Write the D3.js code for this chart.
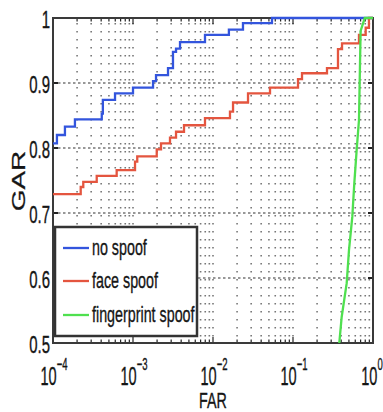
<!DOCTYPE html>
<html>
<head>
<meta charset="utf-8">
<script src="https://cdn.jsdelivr.net/npm/d3@7"></script>
<style>
  body { margin: 0; background: #fff; }
  text { font-family: "Liberation Sans", Arial, Helvetica, sans-serif; fill: #151515; stroke: #151515; stroke-width: 0.35; }
</style>
</head>
<body>
<svg id="chart" width="383" height="412"></svg>
<script>
// ROC data (FAR on log axis, GAR linear)
var blueFar = [1e-4, 1.12e-4, 1.41e-4, 1.88e-4, 4.07e-4, 4.2e-4, 5.96e-4, 1e-3, 1.78e-3, 1.94e-3,
               2.74e-3, 3.16e-3, 3.45e-3, 3.87e-3, 7.94e-3, 0.0158, 0.0237, 0.0546, 1];
var blueGar = [0.807, 0.820, 0.833, 0.844, 0.853, 0.874, 0.884, 0.893, 0.903, 0.912,
               0.923, 0.948, 0.953, 0.963, 0.974, 0.982, 0.992, 1.0, 1.0];

var redFar = [1e-4, 2.22e-4, 2.39e-4, 3.52e-4, 6.25e-4, 1.06e-3, 1.13e-3, 1.98e-3, 2.24e-3, 2.9e-3,
              3.45e-3, 4.34e-3, 7.94e-3, 0.0163, 0.0178, 0.0274, 0.0516, 0.1155, 0.1296, 0.266,
              0.365, 0.41, 0.668, 0.81, 0.89, 1];
var redGar = [0.729, 0.740, 0.748, 0.757, 0.766, 0.779, 0.787, 0.798, 0.807, 0.816,
              0.825, 0.835, 0.846, 0.856, 0.870, 0.884, 0.893, 0.906, 0.915, 0.923,
              0.952, 0.961, 0.974, 0.985, 1.0, 1.0];

var greenFar = [0.379, 0.406, 0.469, 0.501, 0.551, 0.584, 0.625, 0.668, 0.70, 0.79, 1];
var greenGar = [0.5, 0.540, 0.592, 0.643, 0.694, 0.746, 0.797, 0.843, 0.98, 1.0, 1.0];

var seriesNames = ['no spoof', 'face spoof', 'fingerprint spoof'];
var seriesColors = ['#3355dd', '#e4553f', '#4fe04f'];

var farTicks = [1e-4, 1e-3, 1e-2, 1e-1, 1];
var farTickExp = ['\u22124', '\u22123', '\u22122', '\u22121', '0'];
var garTicks = [0.5, 0.6, 0.7, 0.8, 0.9, 1];
var garTickLabels = ['0.5', '0.6', '0.7', '0.8', '0.9', '1'];

var svg = d3.select('#chart');
var squish = 0.65; // the picture is narrowed sideways, text too

var x = d3.scaleLog().domain([1e-4, 1]).range([53, 373]);
var y = d3.scaleLinear().domain([0.5, 1]).range([343, 18]);

// minor log positions 2..9 per decade
var minorFar = [];
for (var e = -4; e < 0; e++) {
    for (var k = 2; k <= 9; k++) minorFar.push(k * Math.pow(10, e));
}

svg.append('rect')
    .attr('x', x(1e-4)).attr('y', y(1))
    .attr('width', x(1) - x(1e-4)).attr('height', y(0.5) - y(1))
    .style('fill', '#fff');

// vertical dotted grid (minor + decades)
svg.append('g').selectAll('line')
    .data(minorFar.concat([1e-3, 1e-2, 1e-1]))
    .enter().append('line')
    .attr('x1', function(d) { return x(d); })
    .attr('x2', function(d) { return x(d); })
    .attr('y1', y(1) + 5).attr('y2', y(0.5))
    .style('stroke', '#777')
    .style('stroke-width', 1.6)
    .style('stroke-dasharray', '1.6,6.4');

// horizontal dotted grid
svg.append('g').selectAll('line')
    .data([0.6, 0.7, 0.8, 0.9])
    .enter().append('line')
    .attr('x1', x(1e-4)).attr('x2', x(1))
    .attr('y1', function(d) { return y(d); })
    .attr('y2', function(d) { return y(d); })
    .style('stroke', '#333')
    .style('stroke-width', 1.2)
    .style('stroke-dasharray', '2.5,2.5');

// inner ticks
var tickG = svg.append('g').style('stroke', '#222').style('stroke-width', 1.2);
minorFar.concat(farTicks).forEach(function(d) {
    var len = farTicks.indexOf(d) >= 0 ? 6 : 3.5;
    tickG.append('line').attr('x1', x(d)).attr('x2', x(d)).attr('y1', y(0.5)).attr('y2', y(0.5) - len);
    tickG.append('line').attr('x1', x(d)).attr('x2', x(d)).attr('y1', y(1)).attr('y2', y(1) + len);
});
garTicks.forEach(function(d) {
    tickG.append('line').attr('x1', x(1e-4)).attr('x2', x(1e-4) + 5).attr('y1', y(d)).attr('y2', y(d))
        .style('stroke-width', 2);
    tickG.append('line').attr('x1', x(1)).attr('x2', x(1) - 5).attr('y1', y(d)).attr('y2', y(d))
        .style('stroke-width', 2);
});

// axes box
svg.append('rect')
    .attr('x', x(1e-4)).attr('y', y(1))
    .attr('width', x(1) - x(1e-4)).attr('height', y(0.5) - y(1))
    .style('fill', 'none')
    .style('stroke', '#3a3a3a')
    .style('stroke-width', 2);

// curves
var line = d3.line()
    .x(function(d) { return x(d[0]); })
    .y(function(d) { return y(d[1]); });

var curves = [
    {data: d3.zip(blueFar, blueGar), curve: d3.curveStepAfter},
    {data: d3.zip(redFar, redGar), curve: d3.curveStepAfter},
    {data: d3.zip(greenFar, greenGar), curve: d3.curveLinear}
];
curves.forEach(function(c, i) {
    svg.append('path')
        .attr('d', line.curve(c.curve)(c.data))
        .style('fill', 'none')
        .style('stroke', seriesColors[i])
        .style('stroke-width', 2.3);
});

// y tick labels
svg.append('g').selectAll('text')
    .data(garTicks)
    .enter().append('text')
    .attr('transform', function(d) { return 'translate(50,' + (y(d) + 9.5) + ') scale(' + squish + ',1)'; })
    .attr('text-anchor', 'end')
    .style('font-size', '23px')
    .text(function(d, i) { return garTickLabels[i]; });

// x tick labels 10^n (last one kept inside the window edge)
var xl = svg.append('g').selectAll('text')
    .data(farTicks)
    .enter().append('text')
    .attr('transform', function(d) {
        var px = Math.min(x(d) + 1, 372);
        return 'translate(' + px + ',385) scale(0.56,1)';
    })
    .attr('text-anchor', 'middle')
    .style('font-size', '26px');
xl.append('tspan').text('10');
xl.append('tspan')
    .attr('dy', -15)
    .style('font-size', '17px')
    .text(function(d, i) { return farTickExp[i]; });

// axis titles
svg.append('text')
    .attr('transform', 'translate(' + ((x(1e-4) + x(1)) / 2) + ',408) scale(' + squish + ',1)')
    .attr('text-anchor', 'middle')
    .style('font-size', '22px')
    .text('FAR');

svg.append('text')
    .attr('transform', 'translate(25,181) rotate(-90) scale(1,' + squish + ')')
    .attr('text-anchor', 'middle')
    .style('font-size', '28px')
    .text('GAR');

// legend
var legend = svg.append('g');
legend.append('rect')
    .attr('x', 55).attr('y', 227)
    .attr('width', 142).attr('height', 109)
    .style('fill', '#fff')
    .style('stroke', '#333')
    .style('stroke-width', 2.5);

var legendY = [248, 281, 315];
seriesNames.forEach(function(name, i) {
    legend.append('line')
        .attr('x1', 63).attr('x2', 89)
        .attr('y1', legendY[i]).attr('y2', legendY[i])
        .style('stroke', seriesColors[i])
        .style('stroke-width', 2.3);
    legend.append('text')
        .attr('transform', 'translate(92,' + (legendY[i] + 7) + ') scale(' + squish + ',1)')
        .style('font-size', '22px')
        .text(name);
});
</script>
</body>
</html>
